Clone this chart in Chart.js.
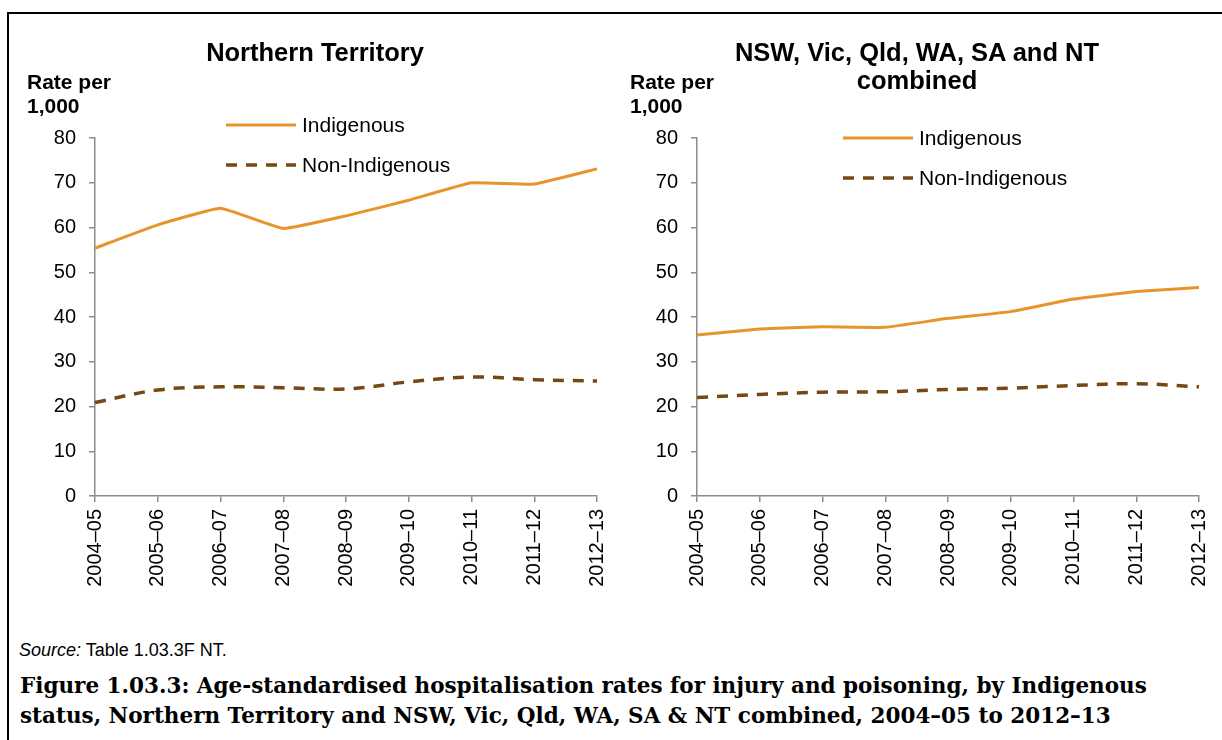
<!DOCTYPE html>
<html>
<head>
<meta charset="utf-8">
<script src="https://cdn.jsdelivr.net/npm/chart.js@4.4.1/dist/chart.umd.min.js"></script>
<style>
  body { margin: 0; background: #fff; font-family: "Liberation Sans", Arial, sans-serif; }
  #page { position: relative; width: 1222px; height: 740px; overflow: hidden; }
  #frame { position: absolute; left: 7px; top: 12px; width: 1230px; height: 740px;
           border-top: 2px solid #000; border-left: 2px solid #000; }
  canvas { position: absolute; top: 0; }
  .title { position: absolute; text-align: center; font-weight: bold; font-size: 25.5px; line-height: 28px; color: #000; }
  .unit { position: absolute; font-weight: bold; font-size: 21px; line-height: 24px; color: #000; }
  #source { position: absolute; left: 19px; top: 640px; font-size: 18px; color: #000; }
  #caption { position: absolute; left: 20px; top: 671px; font-family: "DejaVu Serif", serif; font-weight: bold;
             font-size: 21.5px; line-height: 30px; color: #000; white-space: nowrap; }
</style>
</head>
<body>
<div id="page">
  <div id="frame"></div>
  <canvas id="ntChart" width="628" height="600" style="left:0"></canvas>
  <canvas id="allChart" width="620" height="600" style="left:610px"></canvas>
  <div class="title" style="left:115px; top:38px; width:400px;">Northern Territory</div>
  <div class="title" style="left:717px; top:38px; width:400px;">NSW, Vic, Qld, WA, SA and NT<br>combined</div>
  <div class="unit" style="left:27px; top:70px;">Rate per<br>1,000</div>
  <div class="unit" style="left:630px; top:70px;">Rate per<br>1,000</div>
  <div id="source"><i>Source:</i> Table 1.03.3F NT.</div>
  <div id="caption">Figure 1.03.3: Age-standardised hospitalisation rates for injury and poisoning, by Indigenous<br>status, Northern Territory and NSW, Vic, Qld, WA, SA &amp; NT combined, 2004–05 to 2012–13</div>
</div>
<script>
const years = ["2004–05", "2005–06", "2006–07", "2007–08", "2008–09", "2009–10", "2010–11", "2011–12", "2012–13"];
const yTicks = [0, 10, 20, 30, 40, 50, 60, 70, 80];

// Northern Territory
const ntIndigenous = [55.4, 60.6, 64.3, 59.8, 62.6, 66.1, 70.0, 69.7, 73.1];
const ntNonIndigenous = [20.9, 23.7, 24.4, 24.2, 23.9, 25.5, 26.6, 26.0, 25.7];

// NSW, Vic, Qld, WA, SA and NT combined
const allIndigenous = [36.0, 37.3, 37.8, 37.7, 39.7, 41.2, 44.0, 45.7, 46.6];
const allNonIndigenous = [22.0, 22.7, 23.2, 23.3, 23.8, 24.1, 24.7, 25.1, 24.4];

const orange = "#e8942c";
const brown = "#774714";
const axisGrey = "#8c8c8c";
const font = "'Liberation Sans', Arial, sans-serif";

// legend drawn inside the plot, like the original
const insideLegend = {
    id: "insideLegend",
    afterDraw(chart, args, opts) {
        const ctx = chart.ctx;
        chart.data.datasets.forEach((ds, i) => {
            const y = opts.y + i * opts.gap;
            ctx.save();
            ctx.strokeStyle = ds.borderColor;
            ctx.lineWidth = ds.borderWidth;
            ctx.setLineDash(ds.borderDash || []);
            ctx.beginPath();
            ctx.moveTo(opts.x, y);
            ctx.lineTo(opts.x + 70, y);
            ctx.stroke();
            ctx.setLineDash([]);
            ctx.fillStyle = "#000";
            ctx.font = "21px " + font;
            ctx.textBaseline = "middle";
            ctx.fillText(ds.label, opts.x + 76, y + 1);
            ctx.restore();
        });
    }
};

function makeChart(id, indigenous, nonIndigenous, axisWidth, legendPos) {
    return new Chart(document.getElementById(id), {
        type: "line",
        data: {
            labels: years,
            datasets: [{
                label: "Indigenous",
                data: indigenous,
                borderColor: orange,
                borderWidth: 3,
                pointRadius: 0,
                tension: 0.1
            }, {
                label: "Non-Indigenous",
                data: nonIndigenous,
                borderColor: brown,
                borderWidth: 3.5,
                borderDash: [11, 9],
                pointRadius: 0,
                tension: 0.35
            }]
        },
        options: {
            responsive: false,
            animation: false,
            layout: { padding: { left: 0, top: 138, right: 0, bottom: 0 } },
            plugins: {
                legend: { display: false },
                tooltip: { enabled: false },
                insideLegend: legendPos
            },
            scales: {
                x: {
                    offset: false,
                    grid: { drawOnChartArea: false, drawTicks: true, tickLength: 6, color: axisGrey, lineWidth: 1.5 },
                    border: { color: axisGrey, width: 1.5 },
                    ticks: { color: "#000", font: { family: font, size: 20 }, minRotation: 90, maxRotation: 90, padding: 7 },
                    afterFit(scale) { scale.height = 104; }
                },
                y: {
                    min: 0,
                    max: 80,
                    afterBuildTicks(scale) { scale.ticks = yTicks.map(v => ({ value: v })); },
                    grid: { drawOnChartArea: false, drawTicks: true, tickLength: 6, color: axisGrey, lineWidth: 1.5 },
                    border: { color: axisGrey, width: 1.5 },
                    ticks: { color: "#000", font: { family: font, size: 20 }, padding: 13 },
                    afterFit(scale) { scale.width = axisWidth; }
                }
            }
        },
        plugins: [insideLegend]
    });
}

makeChart("ntChart", ntIndigenous, ntNonIndigenous, 95, { x: 226, y: 125, gap: 40 });
makeChart("allChart", allIndigenous, allNonIndigenous, 87, { x: 233, y: 138, gap: 40 });
</script>
</body>
</html>
